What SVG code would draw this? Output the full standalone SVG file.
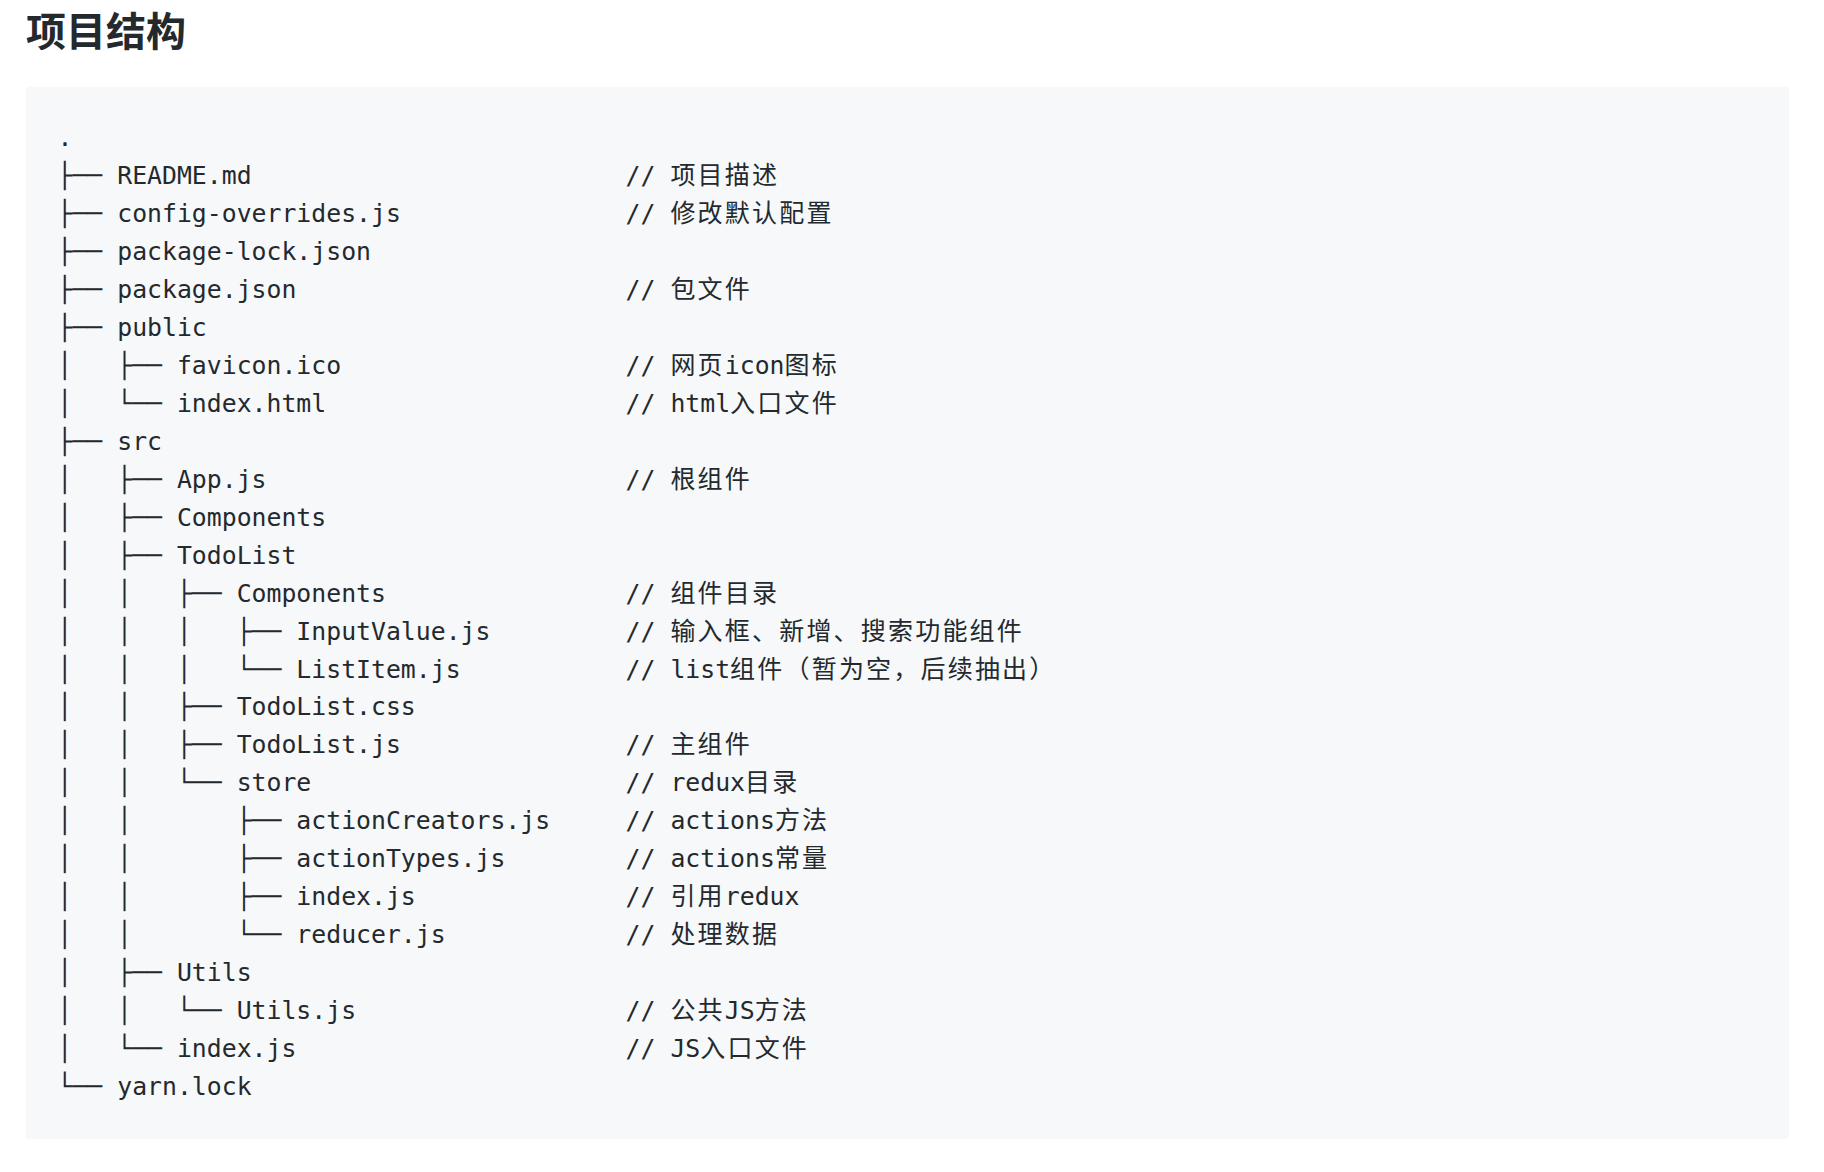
<svg xmlns="http://www.w3.org/2000/svg" width="1824" height="1172" viewBox="0 0 1824 1172" xml:space="preserve">
<style>
.t{font-family:"DejaVu Sans Mono","Liberation Mono","Noto Sans CJK SC",monospace;font-size:24.8px;fill:#24292e;white-space:pre}
.c{font-family:"Noto Sans CJK SC","Noto Sans CJK JP",sans-serif;font-size:25px;letter-spacing:2.2px}
.h{font-family:"Noto Sans CJK SC","Noto Sans CJK JP",sans-serif;font-size:40px;font-weight:bold;fill:#24292e}
</style>
<rect width="1824" height="1172" fill="#ffffff"/>
<text class="h" x="26" y="46">项目结构</text>
<rect x="26" y="87" width="1763" height="1052" rx="3" fill="#f6f8fa"/>
<g id="tree">
<text class="t" x="57.5" y="146.0">.</text>
<text class="t" x="57.5" y="184.0">├── README.md</text>
<text class="t" x="57.5" y="222.0">├── config-overrides.js</text>
<text class="t" x="57.5" y="259.9">├── package-lock.json</text>
<text class="t" x="57.5" y="297.9">├── package.json</text>
<text class="t" x="57.5" y="335.8">├── public</text>
<text class="t" x="57.5" y="373.8">│   ├── favicon.ico</text>
<text class="t" x="57.5" y="411.8">│   └── index.html</text>
<text class="t" x="57.5" y="449.7">├── src</text>
<text class="t" x="57.5" y="487.7">│   ├── App.js</text>
<text class="t" x="57.5" y="525.6">│   ├── Components</text>
<text class="t" x="57.5" y="563.6">│   ├── TodoList</text>
<text class="t" x="57.5" y="601.6">│   │   ├── Components</text>
<text class="t" x="57.5" y="639.5">│   │   │   ├── InputValue.js</text>
<text class="t" x="57.5" y="677.5">│   │   │   └── ListItem.js</text>
<text class="t" x="57.5" y="715.4">│   │   ├── TodoList.css</text>
<text class="t" x="57.5" y="753.4">│   │   ├── TodoList.js</text>
<text class="t" x="57.5" y="791.4">│   │   └── store</text>
<text class="t" x="57.5" y="829.3">│   │       ├── actionCreators.js</text>
<text class="t" x="57.5" y="867.3">│   │       ├── actionTypes.js</text>
<text class="t" x="57.5" y="905.2">│   │       ├── index.js</text>
<text class="t" x="57.5" y="943.2">│   │       └── reducer.js</text>
<text class="t" x="57.5" y="981.1">│   ├── Utils</text>
<text class="t" x="57.5" y="1019.1">│   │   └── Utils.js</text>
<text class="t" x="57.5" y="1057.1">│   └── index.js</text>
<text class="t" x="57.5" y="1095.0">└── yarn.lock</text>
</g>
<g id="comments">
<text class="t" x="625.6" y="184.0">// <tspan class="c">项目描述</tspan></text>
<text class="t" x="625.6" y="222.0">// <tspan class="c">修改默认配置</tspan></text>
<text class="t" x="625.6" y="297.9">// <tspan class="c">包文件</tspan></text>
<text class="t" x="625.6" y="373.8">// <tspan class="c">网页</tspan>icon<tspan class="c">图标</tspan></text>
<text class="t" x="625.6" y="411.8">// html<tspan class="c">入口文件</tspan></text>
<text class="t" x="625.6" y="487.7">// <tspan class="c">根组件</tspan></text>
<text class="t" x="625.6" y="601.6">// <tspan class="c">组件目录</tspan></text>
<text class="t" x="625.6" y="639.5">// <tspan class="c">输入框、新增、搜索功能组件</tspan></text>
<text class="t" x="625.6" y="677.5">// list<tspan class="c">组件（暂为空，后续抽出）</tspan></text>
<text class="t" x="625.6" y="753.4">// <tspan class="c">主组件</tspan></text>
<text class="t" x="625.6" y="791.4">// redux<tspan class="c">目录</tspan></text>
<text class="t" x="625.6" y="829.3">// actions<tspan class="c">方法</tspan></text>
<text class="t" x="625.6" y="867.3">// actions<tspan class="c">常量</tspan></text>
<text class="t" x="625.6" y="905.2">// <tspan class="c">引用</tspan>redux</text>
<text class="t" x="625.6" y="943.2">// <tspan class="c">处理数据</tspan></text>
<text class="t" x="625.6" y="1019.1">// <tspan class="c">公共</tspan>JS<tspan class="c">方法</tspan></text>
<text class="t" x="625.6" y="1057.1">// JS<tspan class="c">入口文件</tspan></text>
</g>
</svg>
